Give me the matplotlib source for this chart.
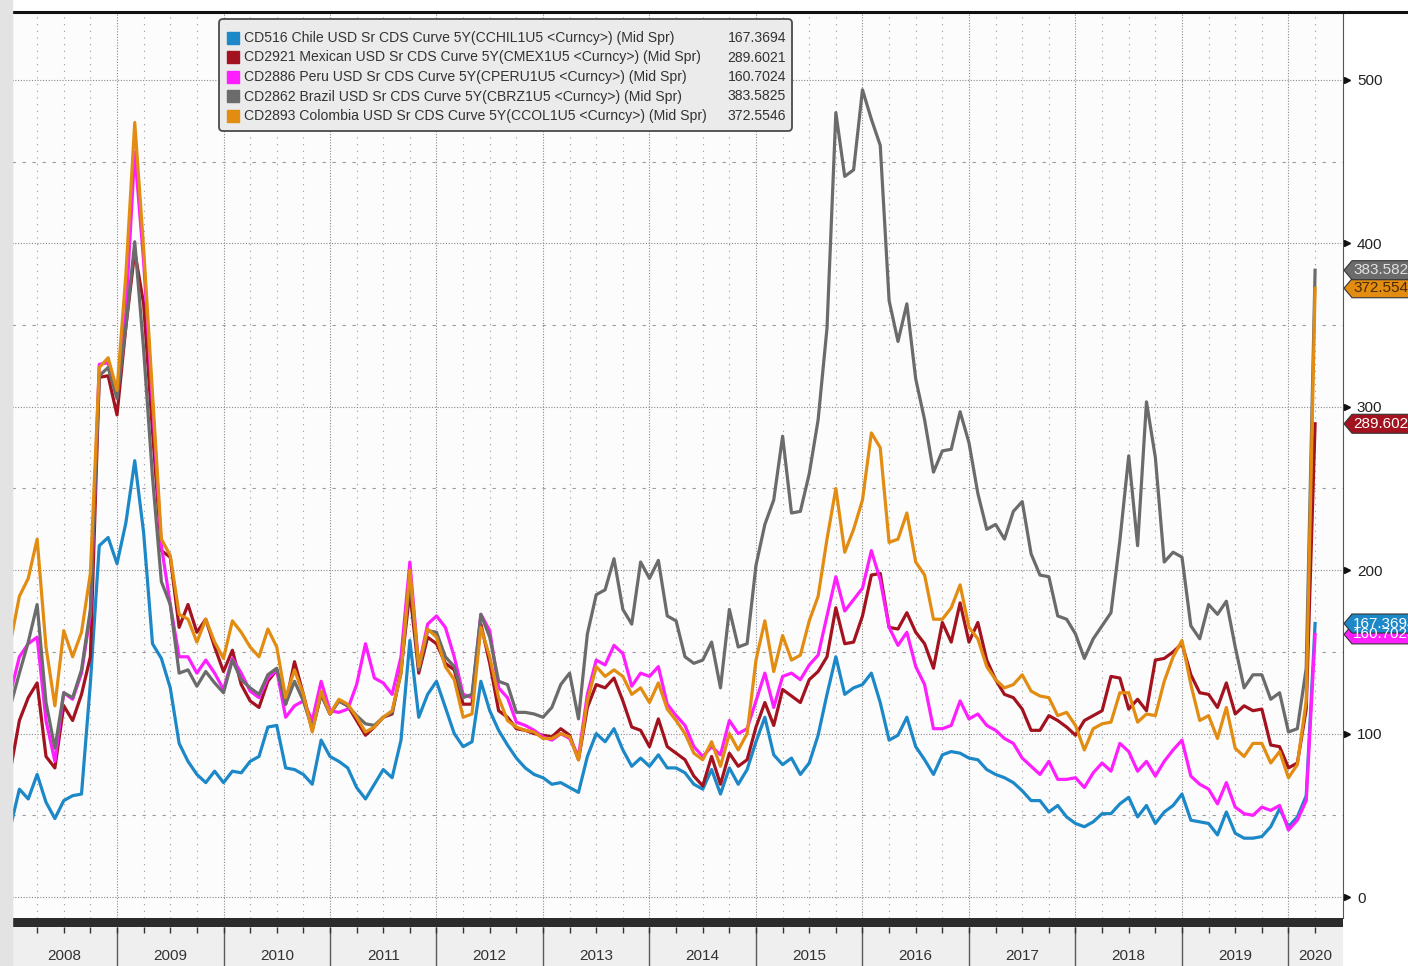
import numpy as np
import matplotlib
matplotlib.use('Agg')
import matplotlib.pyplot as plt
from matplotlib.patches import Polygon, FancyBboxPatch, Rectangle

plt.rcParams['font.family'] = ['Liberation Sans', 'DejaVu Sans']

# monthly observations, Jan 2008 .. Apr 2020
start_year = 2008
n_months = 148

chile = [
    43, 66, 60, 75, 58, 48, 59, 62, 63, 131, 215, 220,
    204, 229, 267, 223, 155, 146, 128, 94, 83, 75, 70, 77,
    70, 77, 76, 83, 86, 104, 105, 79, 78, 75, 69, 96,
    86, 83, 79, 67, 60, 69, 78, 73, 96, 157, 110, 124,
    132, 116, 100, 92, 95, 132, 114, 102, 93, 85, 79, 75,
    73, 69, 70, 67, 64, 86, 100, 95, 103, 90, 80, 85,
    80, 87, 79, 79, 76, 69, 66, 78, 63, 79, 69, 78,
    95, 110, 87, 81, 85, 75, 82, 99, 124, 147, 124, 128,
    130, 137, 119, 96, 99, 110, 92, 84, 75, 87, 89, 88,
    85, 84, 78, 75, 73, 70, 65, 59, 59, 52, 56, 49,
    45, 43, 46, 51, 51, 57, 61, 49, 56, 45, 52, 56,
    63, 47, 46, 45, 38, 52, 39, 36, 36, 37, 43, 54,
    43, 49, 62, 167.3694]

mexico = [
    78, 108, 122, 131, 86, 79, 117, 108, 124, 147, 318, 319,
    295, 349, 395, 363, 285, 212, 208, 165, 179, 162, 170, 153,
    138, 151, 130, 120, 116, 132, 139, 118, 144, 124, 102, 124,
    112, 120, 117, 108, 99, 104, 110, 112, 139, 187, 137, 159,
    155, 143, 139, 118, 118, 167, 143, 114, 110, 103, 102, 100,
    99, 98, 103, 99, 84, 116, 130, 128, 134, 120, 104, 102,
    92, 109, 92, 88, 84, 74, 68, 86, 69, 88, 80, 84,
    104, 119, 105, 127, 123, 119, 133, 138, 147, 177, 155, 156,
    172, 197, 198, 165, 164, 174, 162, 155, 140, 168, 156, 180,
    156, 168, 145, 133, 124, 122, 115, 102, 102, 111, 108, 104,
    99, 108, 111, 114, 135, 134, 115, 121, 114, 145, 146, 150,
    155, 136, 125, 124, 116, 131, 112, 117, 114, 115, 93, 92,
    79, 82, 115, 289.6021]

peru = [
    125, 147, 155, 159, 108, 83, 125, 121, 137, 173, 326, 327,
    308, 358, 456, 389, 302, 215, 179, 147, 147, 137, 145, 137,
    127, 146, 137, 126, 122, 134, 139, 110, 117, 120, 108, 132,
    114, 113, 115, 130, 155, 134, 131, 124, 147, 205, 141, 167,
    172, 165, 147, 124, 122, 173, 163, 128, 122, 107, 105, 102,
    98, 96, 100, 97, 86, 124, 145, 142, 154, 149, 129, 137,
    135, 141, 118, 111, 105, 92, 86, 92, 87, 108, 100, 103,
    120, 137, 116, 135, 137, 133, 142, 148, 172, 196, 175, 182,
    189, 212, 194, 165, 154, 162, 141, 130, 103, 103, 105, 120,
    109, 112, 105, 102, 97, 94, 85, 80, 75, 83, 72, 72,
    73, 67, 76, 82, 77, 94, 89, 77, 83, 74, 83, 90,
    96, 74, 69, 66, 57, 70, 55, 51, 50, 55, 53, 56,
    41, 47, 59, 160.7024]

brazil = [
    117, 137, 156, 179, 119, 91, 125, 122, 139, 176, 319, 324,
    305, 349, 401, 335, 257, 193, 179, 137, 139, 129, 138, 131,
    125, 145, 133, 128, 124, 136, 140, 118, 132, 120, 103, 124,
    112, 120, 117, 111, 106, 105, 110, 113, 137, 196, 139, 163,
    162, 147, 141, 122, 124, 173, 159, 132, 130, 113, 113, 112,
    110, 116, 130, 137, 109, 161, 185, 188, 207, 176, 167, 205,
    195, 206, 172, 169, 147, 143, 145, 156, 128, 176, 153, 155,
    203, 228, 243, 282, 235, 236, 259, 292, 348, 480, 441, 445,
    494, 476, 460, 365, 340, 363, 317, 292, 260, 273, 274, 297,
    278, 247, 225, 228, 219, 236, 242, 210, 197, 196, 172, 170,
    161, 146, 158, 166, 174, 218, 270, 215, 303, 269, 205, 211,
    208, 166, 158, 179, 173, 181, 153, 128, 136, 136, 121, 125,
    101, 103, 140, 383.5825]

colombia = [
    156, 184, 195, 219, 153, 117, 163, 147, 162, 198, 324, 330,
    310, 381, 474, 397, 308, 219, 209, 173, 170, 156, 170, 156,
    146, 169, 162, 153, 147, 164, 153, 122, 139, 124, 101, 126,
    112, 121, 118, 110, 101, 104, 110, 114, 137, 200, 141, 164,
    159, 141, 133, 110, 112, 165, 147, 122, 108, 104, 102, 101,
    97, 97, 100, 98, 84, 120, 141, 135, 139, 135, 124, 128,
    119, 131, 115, 108, 100, 88, 84, 95, 80, 100, 90, 100,
    145, 169, 138, 160, 145, 148, 169, 184, 219, 250, 211, 225,
    243, 284, 275, 217, 219, 235, 205, 197, 170, 170, 177, 191,
    165, 158, 141, 133, 128, 130, 136, 126, 123, 122, 111, 113,
    105, 90, 103, 106, 107, 125, 125, 107, 112, 111, 132, 147,
    157, 130, 108, 111, 97, 116, 91, 86, 94, 94, 82, 89,
    73, 81, 120, 372.5546]

names = [
    'CD516 Chile USD Sr CDS Curve 5Y(CCHIL1U5 <Curncy>) (Mid Spr)',
    'CD2921 Mexican USD Sr CDS Curve 5Y(CMEX1U5 <Curncy>) (Mid Spr)',
    'CD2886 Peru USD Sr CDS Curve 5Y(CPERU1U5 <Curncy>) (Mid Spr)',
    'CD2862 Brazil USD Sr CDS Curve 5Y(CBRZ1U5 <Curncy>) (Mid Spr)',
    'CD2893 Colombia USD Sr CDS Curve 5Y(CCOL1U5 <Curncy>) (Mid Spr)',
]
colors = ['#1c88c7', '#a3121f', '#ff1eff', '#6b6b6b', '#e28c12']
tag_text_colors = ['white', 'white', 'white', '#e2e2e2', '#4a2a00']
series = [chile, mexico, peru, brazil, colombia]

y_ticks = [0, 100, 200, 300, 400, 500]
year_labels = list(range(2008, 2021))

W, H = 1408, 966
fig = plt.figure(figsize=(W / 100, H / 100), dpi=100, facecolor='white')


def px_axes(x0, y0, x1, y1, **kw):
    return fig.add_axes([x0 / W, 1 - y1 / H, (x1 - x0) / W, (y1 - y0) / H], **kw)


# grey strip on the far left
fig.patches.append(Rectangle((0, 0), 12 / W, 1, transform=fig.transFigure,
                             color='#e3e3e3', zorder=0))

x = start_year + np.arange(n_months) / 12.0
x_lo, x_hi = 2008.014, 2020.512

ax = px_axes(12, 12, 1343, 918, facecolor='#fcfcfc')
for s, c in zip(series, colors):
    ax.plot(x, s, color=c, lw=2.3, solid_joinstyle='round', zorder=3)

ax.set_xlim(x_lo, x_hi)
ax.set_ylim(-12.85, 541.6)
ax.set_xticks(range(2009, 2021))
ax.set_xticks([q for q in np.arange(2008.25, 2020.5, 0.25) if q % 1 != 0], minor=True)
ax.set_yticks(y_ticks)
ax.set_yticks([50, 150, 250, 350, 450], minor=True)
ax.grid(which='major', axis='x', color='#8a8a8a', linestyle=(0, (1, 1.5)), lw=0.8)
ax.grid(which='minor', axis='x', color='#9a9a9a', linestyle=(0, (1, 5)), lw=0.8)
ax.grid(which='major', axis='y', color='#8a8a8a', linestyle=(0, (1, 1.5)), lw=0.8)
ax.grid(which='minor', axis='y', color='#9a9a9a', linestyle=(0, (3, 6)), lw=0.8)
ax.yaxis.tick_right()
ax.tick_params(which='both', length=0, labelbottom=False, labelleft=False)
ax.tick_params(axis='y', labelright=True, labelsize=11, pad=10, labelcolor='#222')
ax.spines['left'].set_color('#f2c27a')
ax.spines['left'].set_linewidth(1.5)
ax.spines['right'].set_color('#555555')
ax.spines['top'].set_color('#111111')
ax.spines['top'].set_linewidth(2.2)
ax.spines['bottom'].set_visible(False)

# dark scroll bar under the plot
bar = px_axes(12, 918, 1343, 927, facecolor='#2c2c2c')
bar.set_xticks([])
bar.set_yticks([])
for sp in bar.spines.values():
    sp.set_visible(False)

# year row
yr = px_axes(12, 927, 1343, 966, facecolor='#efefef')
yr.set_xlim(x_lo, x_hi)
yr.set_ylim(0, 1)
yr.axis('off')
yr.add_patch(Rectangle((0, 0), 1, 1, transform=yr.transAxes, color='#efefef', zorder=0))
yr.vlines(range(2009, 2021), 0, 1, color='#5a5a5a', lw=1)
yr.vlines(np.arange(2008.25, 2020.5, 0.25), 0.84, 1, color='#333333', lw=1)
for y in year_labels:
    c = (max(y, x_lo) + min(y + 1, x_hi)) / 2
    yr.text(c, 0.25, str(y), ha='center', va='center', fontsize=11, color='#333333')

# overlay in pixel coordinates for legend and value tags
ov = fig.add_axes([0, 0, 1, 1], facecolor='none')
ov.set_xlim(0, W)
ov.set_ylim(H, 0)
ov.axis('off')

# top border continues to the right edge
ov.plot([1343, W], [12, 12], color='#111111', lw=2.2, solid_capstyle='butt')


def value_to_px(v):
    return H - ax.transData.transform((x_lo, v))[1]


for t in y_ticks:
    ov.plot(1347, value_to_px(t), marker='>', ms=5, color='#111111')

# legend
ov.add_patch(FancyBboxPatch((219, 19), 573, 112, boxstyle='round,pad=0,rounding_size=4',
                            fc='#ebebeb', ec='#4a4a4a', lw=1.3))
for i, (nm, c, s) in enumerate(zip(names, colors, series)):
    yc = 38 + i * 19.5
    ov.add_patch(Rectangle((227, yc - 6.5), 12, 12, color=c))
    ov.text(244, yc, nm, va='center', ha='left', fontsize=10.1, color='#333333')
    ov.text(786, yc, f'{s[-1]:.4f}', va='center', ha='right', fontsize=10.1, color='#333333')

# last-value tags on the right
for i in [2, 0, 1, 4, 3]:
    yp = value_to_px(series[i][-1])
    poly = [(1344, yp), (1352, yp - 9.5), (1420, yp - 9.5), (1420, yp + 9.5), (1352, yp + 9.5)]
    ov.add_patch(Polygon(poly, closed=True, fc=colors[i], ec='#333333', lw=0.8))
    ov.text(1353, yp, f'{series[i][-1]:.4f}', va='center', ha='left', fontsize=11,
            color=tag_text_colors[i])

fig.savefig('out.png', dpi=100, facecolor=fig.get_facecolor())
